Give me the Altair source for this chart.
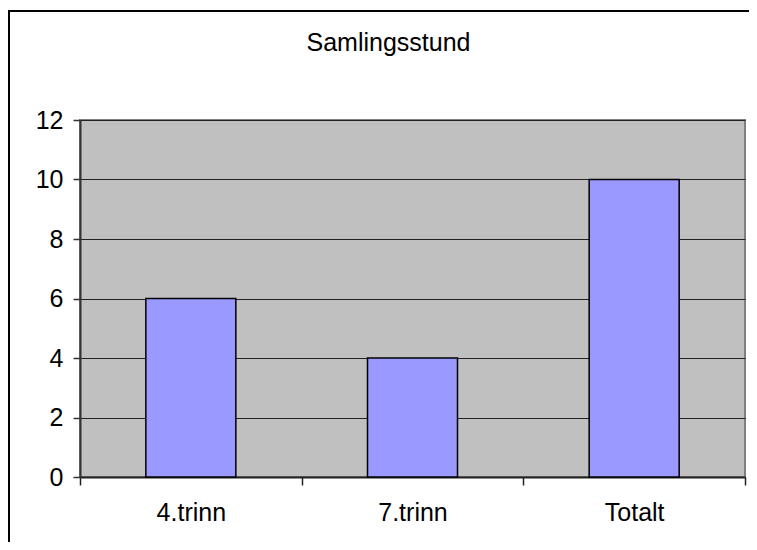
import altair as alt
import pandas as pd

categories = ["4.trinn", "7.trinn", "Totalt"]
values = [6, 4, 10]
title_text = "Samlingsstund"
y_ticks = [0, 2, 4, 6, 8, 10, 12]

df = pd.DataFrame({"cat": categories, "val": values})
FONT = "Liberation Sans"
FS = 25

bars = alt.Chart(df).mark_bar(
    width=90, fill="#9999FF", stroke="black", strokeWidth=1.5
).encode(
    x=alt.X("cat:N", sort=categories, title=None,
            scale=alt.Scale(paddingInner=0, paddingOuter=0),
            axis=alt.Axis(labelAngle=0, tickBand="extent", domainColor="#222",
                          domainWidth=2, tickColor="#222", tickWidth=1.5, tickSize=8,
                          labelPadding=15, labelFontSize=FS, labelFont=FONT,
                          labelColor="black", grid=False)),
    y=alt.Y("val:Q", title=None,
            scale=alt.Scale(domain=[0, 12], nice=False),
            axis=alt.Axis(values=y_ticks, domainColor="#333", domainWidth=2,
                          tickColor="#333", tickWidth=1.5, tickSize=7,
                          labelPadding=10, labelFontSize=FS, labelFont=FONT,
                          labelColor="black", grid=True, gridColor="#222",
                          gridWidth=1)),
)

frame = alt.Chart(alt.Data(values=[{}])).mark_rect(
    fill="transparent", stroke="black", strokeWidth=2, clip=False
).encode(
    x=alt.value(-71), y=alt.value(-109), x2=alt.value(800), y2=alt.value(600)
)

chart = alt.layer(bars, frame).properties(
    width=665, height=357,
    title=alt.TitleParams(title_text, fontSize=FS, font=FONT, fontWeight="normal",
                          color="black", anchor="middle", dx=-24, dy=46, offset=0),
    autosize=alt.AutoSizeParams(type="none"),
    padding={"left": 72, "top": 112, "right": 4, "bottom": 65},
    background="white",
).configure_view(
    fill="#C0C0C0", stroke="#808080", strokeWidth=2
)

chart.save("out.html", embed_options={"renderer": "svg", "actions": False})
